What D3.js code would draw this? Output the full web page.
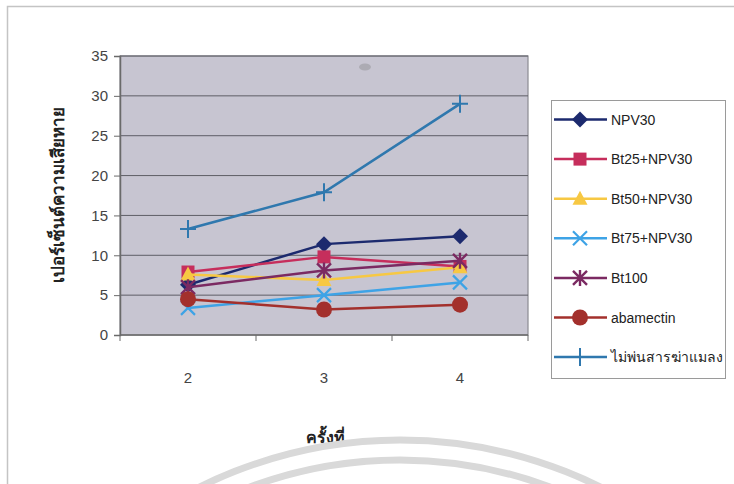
<!DOCTYPE html>
<html>
<head>
<meta charset="utf-8">
<script src="https://cdn.jsdelivr.net/npm/d3@7"></script>
<style>
  html, body { margin: 0; padding: 0; background: #fff; }
  svg { display: block; }
</style>
</head>
<body>
<svg id="chart" width="734" height="484"></svg>
<script>
// Spray rounds on the x axis
const rounds = ["2", "3", "4"];

// Percent damage per treatment, one value per round
const npv30      = [6.3, 11.4, 12.4];
const bt25npv30  = [7.9, 9.8, 8.6];
const bt50npv30  = [7.6, 6.9, 8.5];
const bt75npv30  = [3.4, 5.0, 6.6];
const bt100      = [6.0, 8.1, 9.3];
const abamectin  = [4.5, 3.2, 3.8];
const noSpray    = [13.3, 17.9, 29.0];

const seriesNames = ["NPV30", "Bt25+NPV30", "Bt50+NPV30", "Bt75+NPV30", "Bt100", "abamectin", "ไม่พ่นสารฆ่าแมลง"];
const seriesValues = [npv30, bt25npv30, bt50npv30, bt75npv30, bt100, abamectin, noSpray];
const seriesColors = ["#1c2a6e", "#c62e5c", "#f7c843", "#3ea3e6", "#7b2a62", "#a3302c", "#2f78ae"];
const seriesMarkers = ["diamond", "square", "triangle", "x", "star", "circle", "plus"];

const yTicks = [0, 5, 10, 15, 20, 25, 30, 35];

const svg = d3.select("#chart");

// Outer chart frame
svg.append("path")
  .attr("d", "M7.5,484 L7.5,6.5 L734,6.5")
  .attr("fill", "none").attr("stroke", "#c4c4c4").attr("stroke-width", 1.5);

const plot = { left: 120, right: 528, top: 56, bottom: 335 };

const x = d3.scaleBand().domain(rounds).range([plot.left, plot.right]);
const y = d3.scaleLinear().domain([0, 35]).range([plot.bottom, plot.top]);

// Plot area
svg.append("rect")
  .attr("x", plot.left).attr("y", plot.top)
  .attr("width", plot.right - plot.left).attr("height", plot.bottom - plot.top)
  .attr("fill", "#c7c5d1").attr("stroke", "#8a8a92").attr("stroke-width", 1.2);

// Small smudge on the plot area
svg.append("ellipse")
  .attr("cx", 365).attr("cy", 67).attr("rx", 6).attr("ry", 3.5)
  .attr("fill", "#9a9a9e").attr("opacity", 0.6);

// Horizontal gridlines
svg.append("g")
  .selectAll("line")
  .data(yTicks.slice(1))
  .join("line")
  .attr("x1", plot.left).attr("x2", plot.right)
  .attr("y1", d => y(d)).attr("y2", d => y(d))
  .attr("stroke", "#5e5e66").attr("stroke-width", 1);

// Y axis
const yAxis = svg.append("g")
  .attr("transform", `translate(${plot.left},0)`)
  .call(d3.axisLeft(y).tickValues(yTicks).tickSize(6).tickPadding(6));
yAxis.select(".domain").attr("stroke", "#6a6a6a").attr("stroke-width", 1.5);
yAxis.selectAll(".tick line").attr("stroke", "#6a6a6a");
yAxis.selectAll("text")
  .attr("font-family", "'Liberation Sans', Arial, sans-serif")
  .attr("font-size", 15).attr("fill", "#444");

// X axis: ticks on category boundaries, labels centred below
const xAxis = svg.append("g")
  .attr("transform", `translate(0,${plot.bottom})`);
xAxis.append("line")
  .attr("x1", plot.left).attr("x2", plot.right)
  .attr("stroke", "#6a6a6a").attr("stroke-width", 1.5);
const boundaries = rounds.map(r => x(r)).concat([x(rounds[rounds.length - 1]) + x.bandwidth()]);
xAxis.selectAll("line.tk")
  .data(boundaries)
  .join("line").attr("class", "tk")
  .attr("x1", d => d).attr("x2", d => d)
  .attr("y1", 0).attr("y2", 6)
  .attr("stroke", "#6a6a6a");
xAxis.selectAll("text")
  .data(rounds)
  .join("text")
  .attr("x", d => x(d) + x.bandwidth() / 2)
  .attr("y", 48)
  .attr("text-anchor", "middle")
  .attr("font-family", "'Liberation Sans', Arial, sans-serif")
  .attr("font-size", 15).attr("fill", "#444")
  .text(d => d);

// Axis titles
svg.append("text")
  .attr("transform", "translate(64,195) rotate(-90)")
  .attr("text-anchor", "middle")
  .attr("font-family", "'Noto Sans', 'DejaVu Sans', sans-serif")
  .attr("font-weight", "bold").attr("font-size", 17).attr("fill", "#222")
  .text("เปอร์เซ็นต์ความเสียหาย");

svg.append("text")
  .attr("x", 325).attr("y", 443)
  .attr("text-anchor", "middle")
  .attr("font-family", "'Noto Sans', 'DejaVu Sans', sans-serif")
  .attr("font-weight", "bold").attr("font-size", 16).attr("fill", "#222")
  .text("ครั้งที่");

// Marker shapes
function drawMarker(g, type, color, cx, cy) {
  const m = g.append("g").attr("transform", `translate(${cx},${cy})`);
  if (type === "diamond") {
    m.append("path").attr("d", "M0,-8 L8,0 L0,8 L-8,0 Z").attr("fill", color);
  } else if (type === "square") {
    m.append("rect").attr("x", -6.5).attr("y", -6.5).attr("width", 13).attr("height", 13).attr("fill", color);
  } else if (type === "triangle") {
    m.append("path").attr("d", "M0,-8 L7.5,6 L-7.5,6 Z").attr("fill", color);
  } else if (type === "x") {
    m.append("path").attr("d", "M-7,-7 L7,7 M-7,7 L7,-7")
      .attr("stroke", color).attr("stroke-width", 2.2).attr("fill", "none");
  } else if (type === "star") {
    m.append("path").attr("d", "M-7,-7 L7,7 M-7,7 L7,-7 M0,-8 L0,8")
      .attr("stroke", color).attr("stroke-width", 2.4).attr("fill", "none");
  } else if (type === "circle") {
    m.append("circle").attr("r", 8).attr("fill", color);
  } else if (type === "plus") {
    m.append("path").attr("d", "M-8,0 L8,0 M0,-9 L0,9")
      .attr("stroke", color).attr("stroke-width", 2).attr("fill", "none");
  }
}

const line = d3.line()
  .x((d, i) => x(rounds[i]) + x.bandwidth() / 2)
  .y(d => y(d));

// Series lines then markers
const seriesG = svg.append("g");
seriesValues.forEach((vals, s) => {
  seriesG.append("path")
    .attr("d", line(vals))
    .attr("fill", "none")
    .attr("stroke", seriesColors[s])
    .attr("stroke-width", 2.5);
  vals.forEach((v, i) => {
    drawMarker(seriesG, seriesMarkers[s], seriesColors[s], x(rounds[i]) + x.bandwidth() / 2, y(v));
  });
});

// Legend
const legend = svg.append("g");
legend.append("rect")
  .attr("x", 551.5).attr("y", 100.5).attr("width", 174).attr("height", 278)
  .attr("fill", "#fff").attr("stroke", "#9a9a9a").attr("stroke-width", 1);

seriesNames.forEach((name, s) => {
  const ly = 119.5 + s * 39.6;
  legend.append("line")
    .attr("x1", 554).attr("x2", 607).attr("y1", ly).attr("y2", ly)
    .attr("stroke", seriesColors[s]).attr("stroke-width", 2.5);
  drawMarker(legend, seriesMarkers[s], seriesColors[s], 580, ly);
  legend.append("text")
    .attr("x", 611).attr("y", ly + 5)
    .attr("font-family", "'Liberation Sans', Arial, 'Noto Sans', sans-serif")
    .attr("font-size", 14).attr("fill", "#222")
    .text(name);
});

// Faint arcs across the bottom of the page
const arcs = svg.append("g");
[450, 430].forEach(r => {
  arcs.append("circle")
    .attr("cx", 400).attr("cy", 890).attr("r", r)
    .attr("fill", "none").attr("stroke", "#d9d9d9").attr("stroke-width", 7);
});
</script>
</body>
</html>
